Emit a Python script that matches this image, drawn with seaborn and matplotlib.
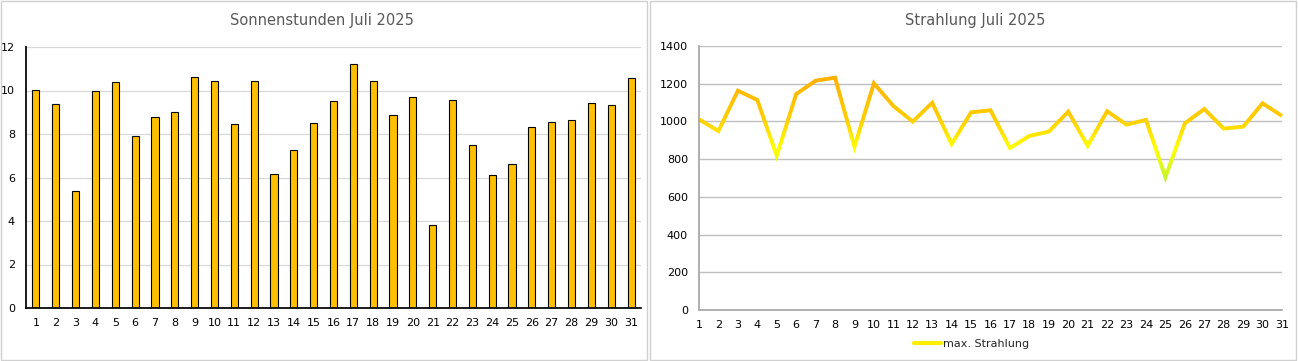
import numpy as np
import pandas as pd
import matplotlib
matplotlib.use("Agg")
import matplotlib.pyplot as plt
from matplotlib.patches import Rectangle
from matplotlib.lines import Line2D
from matplotlib.colors import LinearSegmentedColormap, Normalize
import seaborn as sns

days = list(range(1, 32))
sonnenstunden = [10.02, 9.38, 5.38, 9.98, 10.39, 7.91, 8.78, 9.01, 10.62, 10.44,
                 8.46, 10.44, 6.16, 7.26, 8.51, 9.52, 11.22, 10.44, 8.87, 9.70,
                 3.82, 9.56, 7.49, 6.11, 6.62, 8.32, 8.55, 8.64, 9.43, 9.33, 10.57]
strahlung = [1011, 949, 1163, 1114, 818, 1145, 1216, 1232, 866, 1202,
             1082, 999, 1099, 880, 1048, 1059, 859, 923, 946, 1052,
             871, 1054, 983, 1008, 704, 990, 1066, 962, 972, 1096, 1029]

title_left = "Sonnenstunden Juli 2025"
title_right = "Strahlung Juli 2025"
legend_label = "max. Strahlung"

sns.set_theme(style="white")
plt.rcParams["font.family"] = ["DejaVu Sans"]

fig = plt.figure(figsize=(12.98, 3.61), dpi=100)

# panel borders
for x0 in (0.0, 649 / 1298):
    fig.patches.append(Rectangle((x0 + 0.0004, 0.002), 648 / 1298 - 0.001, 0.995,
                                 transform=fig.transFigure, fill=False,
                                 edgecolor="#D0D0D0", lw=1))

txt = "#595959"

# left: bars
ax1 = fig.add_axes([26 / 1298, 1 - 308 / 361, 615 / 1298, 261 / 361])
df1 = pd.DataFrame({"tag": days, "stunden": sonnenstunden})
sns.barplot(data=df1, x="tag", y="stunden", color="#FFC000", width=0.36,
            edgecolor="black", linewidth=0.8, saturation=1, ax=ax1)
ax1.set_ylim(0, 12)
ax1.set_xlim(-0.5, 30.5)
ax1.set_yticks(range(0, 13, 2))
ax1.yaxis.grid(True, color="#D9D9D9", lw=0.9)
ax1.set_axisbelow(True)
for s in ("top", "right"):
    ax1.spines[s].set_visible(False)
ax1.spines["left"].set_color("black")
ax1.spines["bottom"].set_color("black")
ax1.set_xlabel("")
ax1.set_ylabel("")
ax1.tick_params(axis="both", length=0, labelsize=8, colors="black")
ax1.tick_params(axis="x", pad=7)
ax1.tick_params(axis="y", pad=8)
fig.text(322 / 1298, 1 - 20 / 361, title_left, ha="center", va="center",
         fontsize=10.5, color=txt)

# right: line with vertical colour gradient
ax2 = fig.add_axes([699 / 1298, 1 - 310 / 361, 583 / 1298, 264 / 361])
cmap = LinearSegmentedColormap.from_list(
    "sun", [(0.0, "#B4F03C"), (0.35, "#FFFF00"), (0.6, "#FFD000"), (1.0, "#FFB000")])
norm = Normalize(650, 1240)
edges = np.linspace(600, 1300, 71)
for lo, hi in zip(edges[:-1], edges[1:]):
    c = cmap(norm((lo + hi) / 2))
    ln, = ax2.plot(days, strahlung, color=c, lw=2.8, solid_joinstyle="miter",
                   solid_capstyle="butt")
    clip = Rectangle((0, lo), 40, hi - lo, transform=ax2.transData)
    ln.set_clip_path(clip)
ax2.set_xlim(1, 31)
ax2.set_ylim(0, 1400)
ax2.set_xticks(days)
ax2.set_yticks(range(0, 1401, 200))
ax2.yaxis.grid(True, color="#BFBFBF", lw=1)
ax2.set_axisbelow(True)
for s in ("top", "right"):
    ax2.spines[s].set_visible(False)
ax2.spines["left"].set_color("#A6A6A6")
ax2.spines["bottom"].set_color("#A6A6A6")
ax2.tick_params(axis="both", length=0, labelsize=8, colors="black")
ax2.tick_params(axis="x", pad=7)
ax2.tick_params(axis="y", pad=8)
fig.text(975 / 1298, 1 - 20 / 361, title_right, ha="center", va="center",
         fontsize=10.5, color=txt)
handle = Line2D([], [], color="#FFEE00", lw=3)
fig.legend(handles=[handle], labels=[legend_label], loc="center",
           bbox_to_anchor=(972 / 1298, 1 - 344 / 361), frameon=False,
           fontsize=8, handlelength=2.4, handletextpad=0.2)

fig.savefig("out.png", dpi=100)
